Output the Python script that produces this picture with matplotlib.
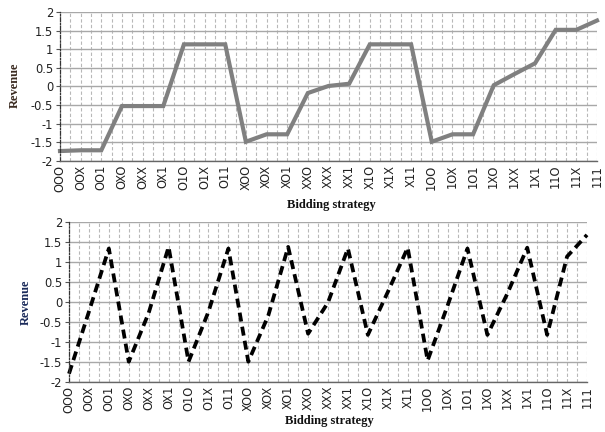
import numpy as np
import matplotlib.pyplot as plt

# ====== DATA ======
strategies = ["OOO", "OOX", "OO1", "OXO", "OXX", "OX1", "O1O", "O1X", "O11",
              "XOO", "XOX", "XO1", "XXO", "XXX", "XX1", "X1O", "X1X", "X11",
              "1OO", "1OX", "1O1", "1XO", "1XX", "1X1", "11O", "11X", "111"]

# top chart (solid grey)
revenue_top = [-1.74, -1.72, -1.72, -0.53, -0.53, -0.53, 1.13, 1.13, 1.13,
               -1.49, -1.29, -1.29, -0.18, 0.01, 0.07, 1.13, 1.13, 1.13,
               -1.49, -1.29, -1.29, 0.03, 0.33, 0.62, 1.52, 1.52, 1.77]

# bottom chart (dashed black)
revenue_bottom = [-1.80, -0.25, 1.33, -1.50, -0.28, 1.37, -1.50, -0.25, 1.33,
                  -1.50, -0.35, 1.37, -0.80, -0.02, 1.33, -0.83, 0.24, 1.35,
                  -1.47, -0.10, 1.33, -0.83, 0.20, 1.35, -0.83, 1.13, 1.67]

yticks = [-2, -1.5, -1, -0.5, 0, 0.5, 1, 1.5, 2]
ytick_labels = ["-2", "-1.5", "-1", "-0.5", "0", "0.5", "1", "1.5", "2"]

# ====== PLOT ======
fig = plt.figure(figsize=(6.05, 4.32), dpi=100)

ax_top = fig.add_axes([60 / 605, 1 - 160.7 / 432, 537 / 605, 148.7 / 432])
ax_bot = fig.add_axes([69 / 605, 1 - 381.7 / 432, 518 / 605, 160 / 432])

x = np.arange(len(strategies))


def style_axis(ax):
    ax.set_xlim(0, len(strategies) - 1)
    ax.set_ylim(-2, 2)
    ax.set_yticks(yticks)
    ax.set_yticklabels(ytick_labels, fontsize=8.3, color="#222222")
    ax.set_xticks(x)
    ax.set_xticklabels(strategies, rotation=90, fontsize=8.3, color="#222222")
    ax.set_xticks(np.arange(0.5, len(strategies) - 1, 1), minor=True)
    ax.tick_params(axis="y", length=3, width=0.8, color="#555555", pad=2)
    ax.tick_params(axis="x", which="both", length=0, pad=3)
    # horizontal grid solid, vertical grid dashed
    ax.grid(axis="y", color="#a8a8a8", linewidth=1.0, linestyle="-")
    ax.grid(axis="x", which="both", color="#b8b8b8", linewidth=0.8,
            linestyle=(0, (3, 2)))
    ax.set_axisbelow(True)
    ax.spines["top"].set_visible(False)
    ax.spines["right"].set_visible(False)
    ax.spines["left"].set_linestyle((0, (3, 1.5, 1, 1.5)))
    ax.spines["left"].set_color("#333333")
    ax.spines["left"].set_linewidth(0.9)
    ax.spines["bottom"].set_color("#666666")
    ax.spines["bottom"].set_linewidth(1.0)


style_axis(ax_top)
style_axis(ax_bot)

ax_top.plot(x, revenue_top, color="#808080", linewidth=3.0, clip_on=False,
            solid_joinstyle="miter")
ax_bot.plot(x, revenue_bottom, color="black", linewidth=2.7,
            linestyle=(0, (2.4, 1.4)), clip_on=False)

# axis titles
fig.text(331 / 605, 1 - 205 / 432, "Bidding strategy", ha="center", va="center",
         fontsize=9, fontweight="bold", family="Liberation Serif", color="#111111")
fig.text(329 / 605, 1 - 421 / 432, "Bidding strategy", ha="center", va="center",
         fontsize=9, fontweight="bold", family="Liberation Serif", color="#111111")
fig.text(15 / 605, 1 - 85 / 432, "Revenue", ha="center", va="center", rotation=90,
         fontsize=9, fontweight="bold", family="Liberation Serif", color="#3a2a20")
fig.text(26 / 605, 1 - 302 / 432, "Revenue", ha="center", va="center", rotation=90,
         fontsize=9, fontweight="bold", family="Liberation Serif", color="#1a2a5a")

fig.savefig("out.png", dpi=100)
